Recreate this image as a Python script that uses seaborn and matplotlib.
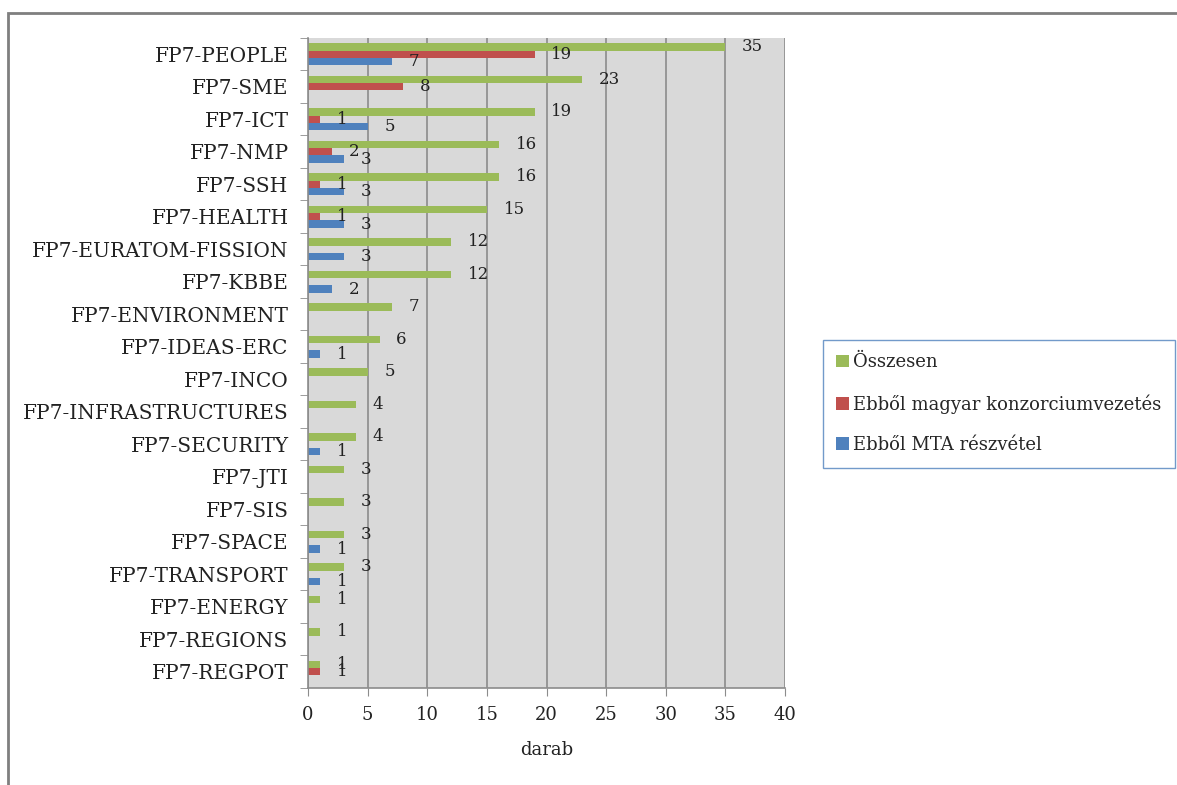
import pandas as pd
import matplotlib.pyplot as plt
import seaborn as sns
from matplotlib.patches import Rectangle, Patch
from matplotlib.ticker import MultipleLocator, FixedLocator

#%% Data
categories = ['FP7-PEOPLE', 'FP7-SME', 'FP7-ICT', 'FP7-NMP', 'FP7-SSH', 'FP7-HEALTH',
              'FP7-EURATOM-FISSION', 'FP7-KBBE', 'FP7-ENVIRONMENT', 'FP7-IDEAS-ERC',
              'FP7-INCO', 'FP7-INFRASTRUCTURES', 'FP7-SECURITY', 'FP7-JTI', 'FP7-SIS',
              'FP7-SPACE', 'FP7-TRANSPORT', 'FP7-ENERGY', 'FP7-REGIONS', 'FP7-REGPOT']
osszesen = [35, 23, 19, 16, 16, 15, 12, 12, 7, 6, 5, 4, 4, 3, 3, 3, 3, 1, 1, 1]
magyar_vez = [19, 8, 1, 2, 1, 1, 0, 0, 0, 0, 0, 0, 0, 0, 0, 0, 0, 0, 0, 1]
mta = [7, 0, 5, 3, 3, 3, 3, 2, 0, 1, 0, 0, 1, 0, 0, 1, 1, 0, 0, 0]
series_names = ['Összesen', 'Ebből magyar konzorciumvezetés', 'Ebből MTA részvétel']
colors = ['#9BBB59', '#C0504D', '#4F81BD']

#%% Long form table, zeros left out (not drawn in the original)
df = pd.DataFrame({'kat': categories * 3,
                   'sor': [series_names[0]] * 20 + [series_names[1]] * 20 + [series_names[2]] * 20,
                   'darab': osszesen + magyar_vez + mta})
df = df[df['darab'] > 0]

#%% Plot
sns.set_style('white')
plt.rcParams['font.family'] = ['DejaVu Serif', 'Liberation Serif']

fig = plt.figure(figsize=(11.77, 7.85), dpi=100)
ax = fig.add_axes([0.2617, 0.1236, 0.4053, 0.828])

sns.barplot(data=df, y='kat', x='darab', hue='sor', order=categories,
            hue_order=series_names, palette=colors, orient='h', width=0.68,
            dodge=True, saturation=1, linewidth=0, legend=False, ax=ax)

for cont in ax.containers:
    ax.bar_label(cont, padding=12, fontsize=12, color='#222222')

ax.set_facecolor('#D9D9D9')
ax.set_xlim(0, 40)
ax.set_ylim(len(categories) - 0.5, -0.5)
ax.xaxis.set_major_locator(MultipleLocator(5))
ax.grid(axis='x', color='#8C8C8C', linewidth=1.2)
ax.set_axisbelow(True)
for s in ['top', 'right']:
    ax.spines[s].set_visible(False)
for s in ['left', 'bottom']:
    ax.spines[s].set_color('#8C8C8C')
    ax.spines[s].set_linewidth(1.2)

ax.yaxis.set_minor_locator(FixedLocator([i - 0.5 for i in range(len(categories) + 1)]))
ax.tick_params(axis='y', which='major', length=0, pad=14, labelsize=14.5, labelcolor='#222222')
ax.tick_params(axis='y', which='minor', length=6, color='#8C8C8C', direction='out', left=True)
ax.tick_params(axis='x', which='major', length=6, color='#8C8C8C', direction='out',
               bottom=True, labelsize=13, labelcolor='#222222', pad=7)
ax.set_ylabel('')
ax.set_xlabel('darab', fontsize=13, color='#222222', labelpad=12)

handles = [Patch(facecolor=c, edgecolor='none') for c in colors]
leg = fig.legend(handles, series_names, loc='upper left', bbox_to_anchor=(0.699, 0.567),
                 fontsize=13, frameon=True, fancybox=False, handlelength=0.7,
                 handleheight=0.7, handletextpad=0.25, labelspacing=1.25,
                 borderpad=0.75, borderaxespad=0)
leg.get_frame().set_edgecolor('#4F81BD')
leg.get_frame().set_linewidth(1.0)

# outer chart frame
fig.patches.append(Rectangle((8 / 1177, -0.05), 1.1, 1 - 13 / 785 + 0.05,
                             transform=fig.transFigure, fill=False,
                             edgecolor='#7F7F7F', linewidth=2))

fig.savefig('out.png', dpi=100)
